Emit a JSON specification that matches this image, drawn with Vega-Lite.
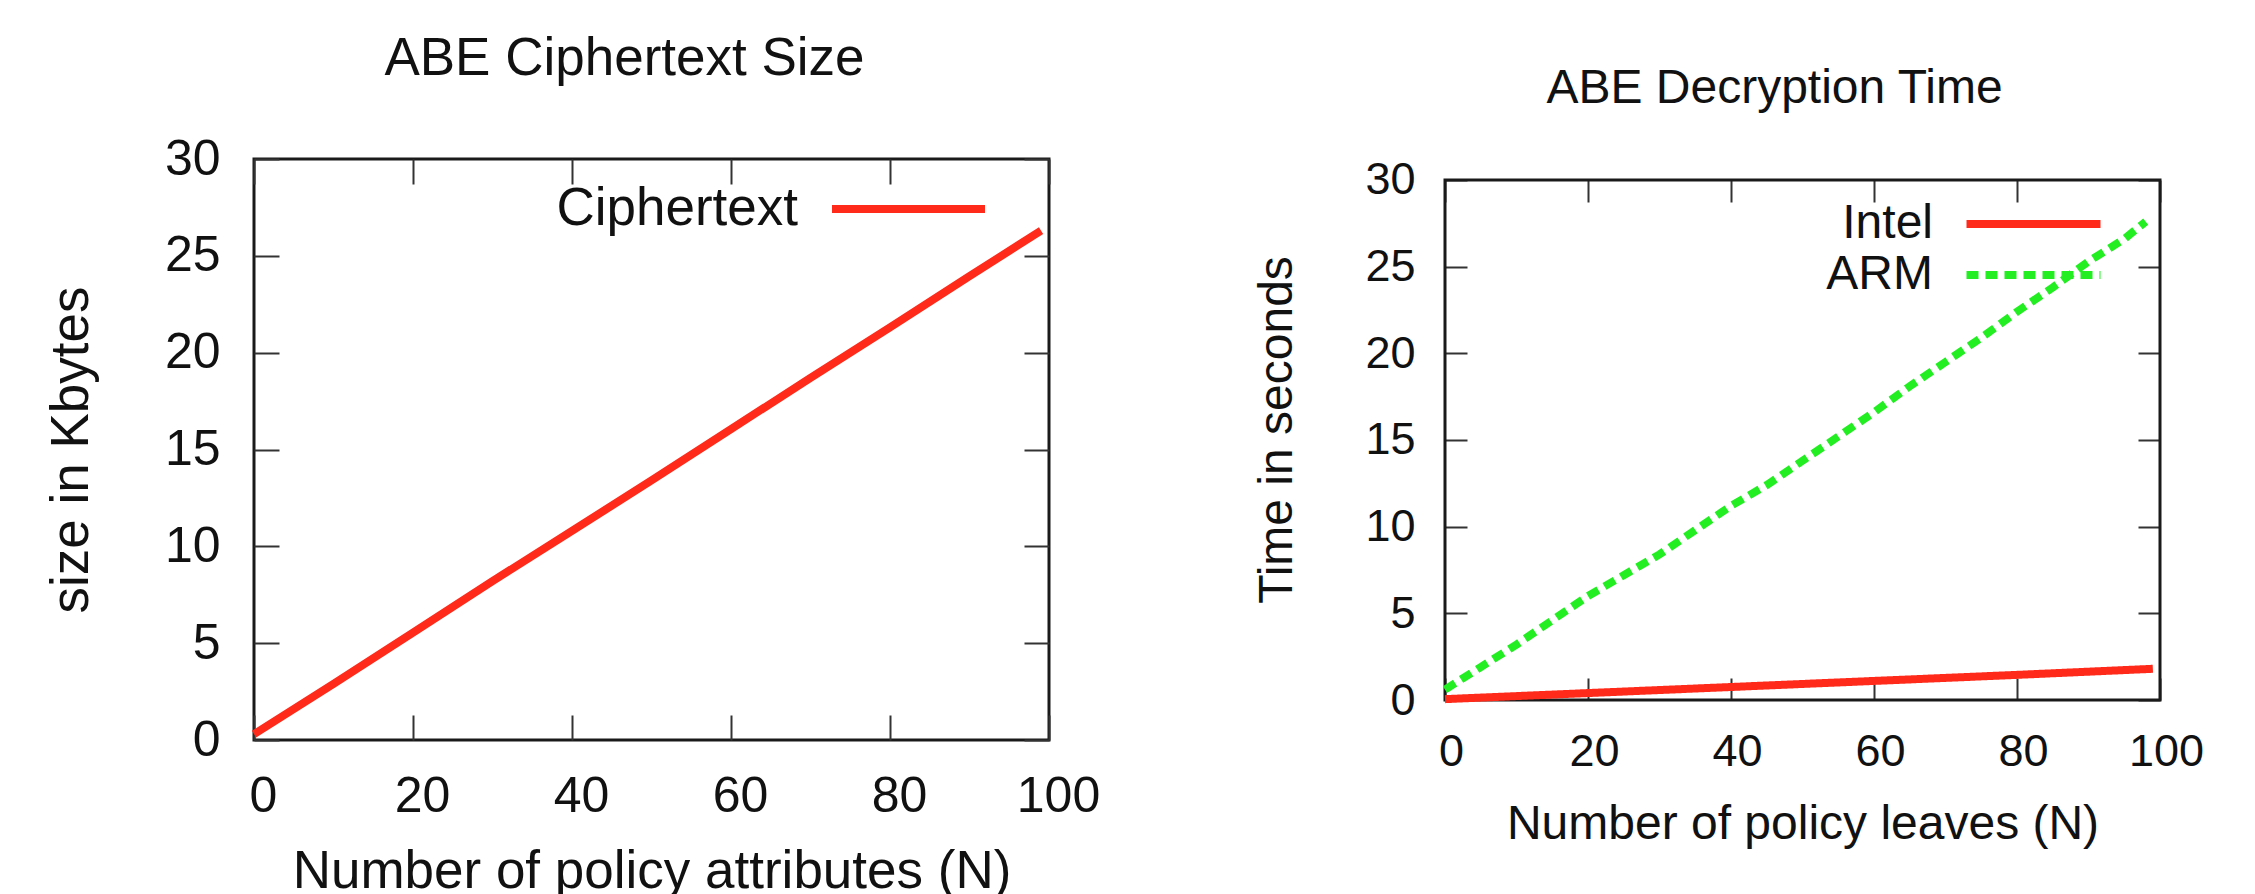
{
  "$schema": "https://vega.github.io/schema/vega-lite/v6.json",
  "background": "white",
  "padding": {"left": 43, "top": 30, "right": 0, "bottom": 0},
  "spacing": 151,
  "config": {
    "view": {"stroke": "#1a1a1a", "strokeWidth": 3},
    "font": "Liberation Sans",
    "axis": {"grid": false, "domain": false, "tickColor": "#333333", "tickWidth": 2, "labelColor": "#111111", "titleColor": "#111111", "titleFontWeight": "normal", "labelFlush": false, "labelOverlap": false},
    "legend": {"padding": 0, "labelColor": "#111111", "labelLimit": 0}
  },
  "datasets": {
    "cipher": [
      {"N": 0, "size": 0.3, "series": "Ciphertext"},
      {"N": 10, "size": 2.9, "series": "Ciphertext"},
      {"N": 20, "size": 5.55, "series": "Ciphertext"},
      {"N": 30, "size": 8.2, "series": "Ciphertext"},
      {"N": 40, "size": 10.8, "series": "Ciphertext"},
      {"N": 50, "size": 13.4, "series": "Ciphertext"},
      {"N": 60, "size": 16.05, "series": "Ciphertext"},
      {"N": 70, "size": 18.7, "series": "Ciphertext"},
      {"N": 80, "size": 21.3, "series": "Ciphertext"},
      {"N": 90, "size": 23.95, "series": "Ciphertext"},
      {"N": 99, "size": 26.3, "series": "Ciphertext"}
    ],
    "decrypt": [
      {"N": 0, "time": 0.05, "series": "Intel"},
      {"N": 20, "time": 0.4, "series": "Intel"},
      {"N": 40, "time": 0.75, "series": "Intel"},
      {"N": 60, "time": 1.1, "series": "Intel"},
      {"N": 80, "time": 1.45, "series": "Intel"},
      {"N": 99, "time": 1.8, "series": "Intel"},
      {"N": 0, "time": 0.6, "series": "ARM"},
      {"N": 5, "time": 1.9, "series": "ARM"},
      {"N": 10, "time": 3.2, "series": "ARM"},
      {"N": 15, "time": 4.6, "series": "ARM"},
      {"N": 20, "time": 6.0, "series": "ARM"},
      {"N": 25, "time": 7.2, "series": "ARM"},
      {"N": 30, "time": 8.4, "series": "ARM"},
      {"N": 35, "time": 9.8, "series": "ARM"},
      {"N": 40, "time": 11.2, "series": "ARM"},
      {"N": 45, "time": 12.4, "series": "ARM"},
      {"N": 50, "time": 13.8, "series": "ARM"},
      {"N": 55, "time": 15.2, "series": "ARM"},
      {"N": 60, "time": 16.6, "series": "ARM"},
      {"N": 65, "time": 18.1, "series": "ARM"},
      {"N": 70, "time": 19.5, "series": "ARM"},
      {"N": 75, "time": 20.9, "series": "ARM"},
      {"N": 80, "time": 22.4, "series": "ARM"},
      {"N": 85, "time": 23.8, "series": "ARM"},
      {"N": 90, "time": 25.3, "series": "ARM"},
      {"N": 95, "time": 26.6, "series": "ARM"},
      {"N": 98, "time": 27.6, "series": "ARM"}
    ]
  },
  "resolve": {"scale": {"color": "independent", "strokeDash": "independent"}, "legend": {"color": "independent", "strokeDash": "independent"}},
  "hconcat": [
    {
      "width": 795,
      "height": 581,
      "data": {"name": "cipher"},
      "layer": [
        {
          "mark": {"type": "line", "strokeWidth": 8, "strokeCap": "butt"},
          "encoding": {
            "x": {"field": "N", "type": "quantitative", "scale": {"domain": [0, 100], "nice": false, "zero": false},
              "axis": {"orient": "bottom", "values": [0, 20, 40, 60, 80, 100], "tickSize": -25, "labelFontSize": 50, "labelPadding": 56, "labelOffset": 9, "title": "Number of policy attributes (N)", "titleFontSize": 53, "titlePadding": 24}},
            "y": {"field": "size", "type": "quantitative", "scale": {"domain": [0, 30], "nice": false},
              "axis": {"orient": "left", "values": [0, 5, 10, 15, 20, 25, 30], "tickSize": -25, "labelFontSize": 50, "labelPadding": 59, "title": "size in Kbytes", "titleFontSize": 53, "titlePadding": 66}},
            "color": {"field": "series", "type": "nominal", "scale": {"domain": ["Ciphertext"], "range": ["#ff2a1a"]},
              "legend": {"orient": "none", "legendX": 625, "legendY": 20.5, "title": null, "symbolType": "M-3,0H3", "symbolSize": 2601, "symbolStrokeWidth": 8, "symbolFillColor": "transparent", "labelFontSize": 53, "labelAlign": "right", "labelOffset": -140}}
          }
        },
        {
          "mark": {"type": "point", "opacity": 0},
          "encoding": {
            "x": {"field": "N", "type": "quantitative", "scale": {"domain": [0, 100], "nice": false, "zero": false},
              "axis": {"orient": "top", "values": [0, 20, 40, 60, 80, 100], "tickSize": -25, "labels": false, "title": "ABE Ciphertext Size", "titleFontSize": 53, "titleX": 370, "titleY": -85, "titleBaseline": "alphabetic", "titleAlign": "center", "titleAngle": 0}},
            "y": {"field": "size", "type": "quantitative", "scale": {"domain": [0, 30], "nice": false},
              "axis": {"orient": "right", "values": [0, 5, 10, 15, 20, 25, 30], "tickSize": -25, "labels": false, "title": null}}
          }
        }
      ]
    },
    {
      "width": 715,
      "height": 541,
      "view": {"stroke": null},
      "layer": [
        {
          "data": {"values": [{"frame": "box"}]},
          "mark": {"type": "rect", "fill": null, "stroke": "#1a1a1a", "strokeWidth": 3},
          "encoding": {
            "x": {"datum": 0, "type": "quantitative", "scale": {"domain": [0, 100], "nice": false, "zero": false}, "axis": null},
            "x2": {"datum": 100},
            "y": {"datum": 0, "type": "quantitative", "scale": {"domain": [0, 31.2115], "nice": false}, "axis": null},
            "y2": {"datum": 30}
          }
        },
        {
          "data": {"name": "decrypt"},
          "mark": {"type": "line", "strokeWidth": 8, "strokeCap": "butt"},
          "encoding": {
            "x": {"field": "N", "type": "quantitative", "scale": {"domain": [0, 100], "nice": false, "zero": false},
              "axis": {"orient": "bottom", "values": [0, 20, 40, 60, 80, 100], "tickSize": -22, "labelFontSize": 45, "labelPadding": 51, "labelOffset": 6, "title": "Number of policy leaves (N)", "titleFontSize": 48, "titlePadding": 26}},
            "y": {"field": "time", "type": "quantitative", "scale": {"domain": [0, 31.2115], "nice": false},
              "axis": {"orient": "left", "values": [0, 5, 10, 15, 20, 25, 30], "tickSize": -22, "labelFontSize": 45, "labelPadding": 52, "title": "Time in seconds", "titleFontSize": 48, "titlePadding": 63}},
            "color": {"field": "series", "type": "nominal", "scale": {"domain": ["Intel", "ARM"], "range": ["#ff2a1a", "#22ee22"]},
              "legend": {"orient": "none", "legendX": 562, "legendY": 38.5, "title": null, "symbolType": "M-3,0H3", "symbolSize": 1995, "symbolStrokeWidth": 8, "symbolFillColor": "transparent", "labelFontSize": 48, "labelAlign": "right", "labelOffset": -127, "rowPadding": -4}},
            "strokeDash": {"field": "series", "type": "nominal", "scale": {"domain": ["Intel", "ARM"], "range": [[1, 0], [12, 7]]},
              "legend": {"orient": "none", "legendX": 562, "legendY": 38.5, "title": null, "symbolType": "M-3,0H3", "symbolSize": 1995, "symbolStrokeWidth": 8, "symbolFillColor": "transparent", "labelFontSize": 48, "labelAlign": "right", "labelOffset": -127, "rowPadding": -4}}
          }
        },
        {
          "data": {"name": "decrypt"},
          "mark": {"type": "point", "opacity": 0},
          "encoding": {
            "x": {"field": "N", "type": "quantitative", "scale": {"domain": [0, 100], "nice": false, "zero": false},
              "axis": {"orient": "top", "offset": -21, "values": [0, 20, 40, 60, 80, 100], "tickSize": -22, "labels": false, "title": "ABE Decryption Time", "titleFontSize": 48, "titleX": 329, "titleY": -78, "titleBaseline": "alphabetic", "titleAlign": "center", "titleAngle": 0}},
            "y": {"field": "time", "type": "quantitative", "scale": {"domain": [0, 31.2115], "nice": false},
              "axis": {"orient": "right", "values": [0, 5, 10, 15, 20, 25, 30], "tickSize": -22, "labels": false, "title": null}}
          }
        }
      ]
    }
  ]
}
